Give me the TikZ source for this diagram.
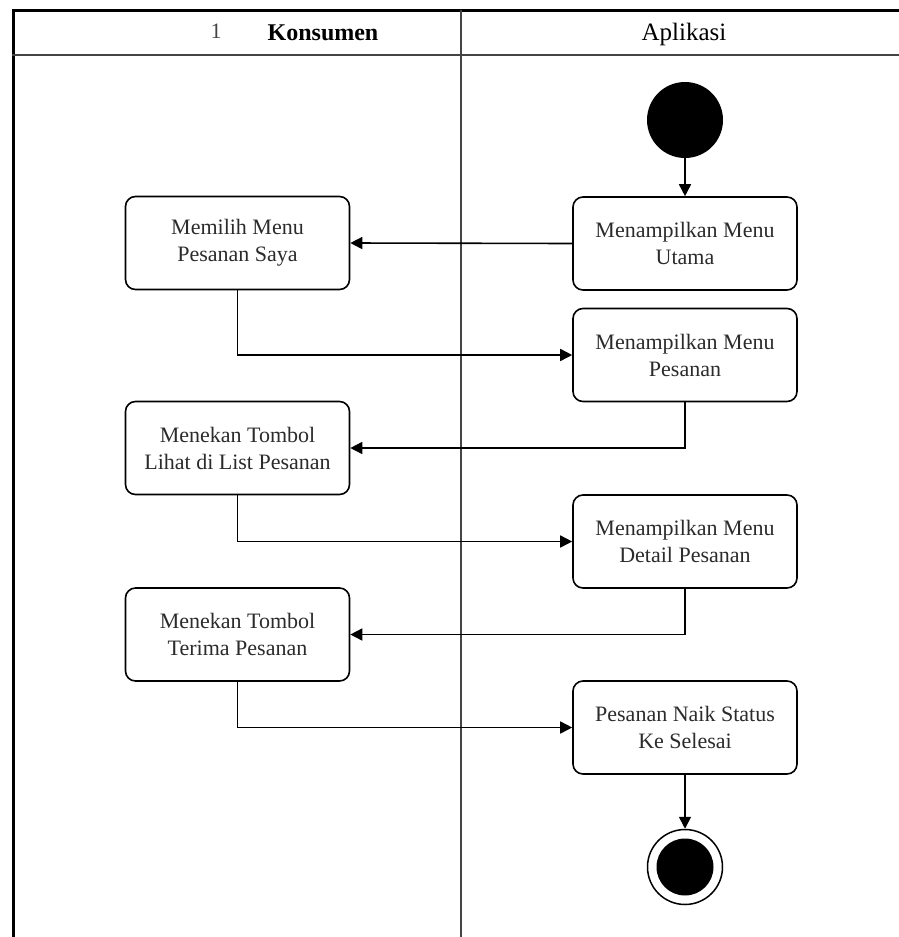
\documentclass[tikz,border=0pt]{standalone}
\usepackage{fontspec}
\setmainfont{Liberation Serif}
\usetikzlibrary{arrows.meta}
\definecolor{inkgray}{HTML}{2B2B2B}
\definecolor{lanegray}{HTML}{444444}
\begin{document}
\begin{tikzpicture}[x=1pt,y=-1pt,
  action/.style={draw=black,line width=1.6pt,rounded corners=10pt,
    minimum width=224pt,minimum height=93pt,align=center,
    text=inkgray,font=\fontsize{22}{27}\selectfont,inner sep=0pt},
  flow/.style={draw=black,line width=1.6pt,
    -{Triangle[length=12pt,width=12pt]}},
  lanehead/.style={text=black}
]
\useasboundingbox (0,0) rectangle (899,937);

% swimlane frame
\draw[line width=3pt] (13,937) -- (13,10) -- (899,10);
\draw[line width=2pt,lanegray] (12,55) -- (899,55);
\draw[line width=2pt,lanegray] (461,10) -- (461,937);

% lane headers
\node[lanehead,text=lanegray,font=\fontsize{22}{24}\selectfont] (mark) at (216,31) {1};
\node[lanehead,font=\fontsize{24}{26}\selectfont\bfseries] (konsumen) at (323,33) {Konsumen};
\node[lanehead,font=\fontsize{25}{27}\selectfont] (aplikasi) at (684,34) {Aplikasi};

% start and end
\node[circle,fill=black,minimum size=76pt,inner sep=0pt] (start) at (685,120) {};
\node[circle,draw=black,line width=1.5pt,minimum size=75pt,inner sep=0pt] (endo) at (685,867) {};
\node[circle,fill=black,minimum size=57pt,inner sep=0pt] (endi) at (685,867) {};

% actions
\node[action] (utama)   at (685,243.5) {Menampilkan Menu\\Utama};
\node[action] (memilih) at (237.5,243) {Memilih Menu\\Pesanan Saya};
\node[action] (pesanan) at (685,355) {Menampilkan Menu\\Pesanan};
\node[action] (lihat)   at (237.5,448) {Menekan Tombol\\Lihat di List Pesanan};
\node[action] (detail)  at (685,541.5) {Menampilkan Menu\\Detail Pesanan};
\node[action] (terima)  at (237.5,634.5) {Menekan Tombol\\Terima Pesanan};
\node[action] (selesai) at (685,727.5) {Pesanan Naik Status\\Ke Selesai};

% control flow
\draw[flow] (start.south) -- (utama.north);
\draw[flow] (utama.west) -- (memilih.east);
\draw[flow] (memilih.south) |- (pesanan.west);
\draw[flow] (pesanan.south) |- (lihat.east);
\draw[flow] (lihat.south) |- (detail.west);
\draw[flow] (detail.south) |- (terima.east);
\draw[flow] (terima.south) |- (selesai.west);
\draw[flow] (selesai.south) -- (endo.north);
\end{tikzpicture}
\end{document}
